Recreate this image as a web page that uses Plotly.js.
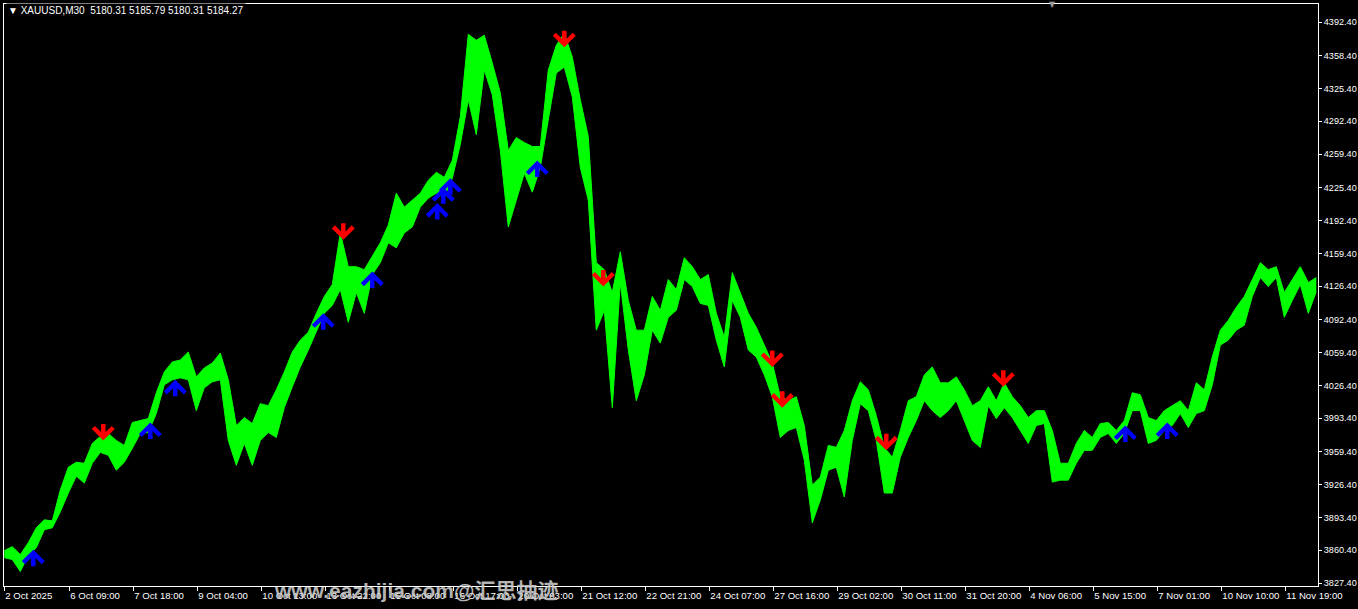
<!DOCTYPE html>
<html>
<head>
<meta charset="utf-8">
<script src="https://cdn.plot.ly/plotly-3.0.1.min.js"></script>
<style>html,body{margin:0;padding:0;background:#000;}#chart{width:1358px;height:609px;}</style>
</head>
<body>
<div id="chart"></div>
<script>
// Sample spacing: every 8 M30 bars
const sampleStep = 8;
// High / low of each 8-bar sample (XAUUSD M30)
const highs = [3860,3864,3856,3868,3883,3891,3890,3921,3944,3949,3948,3968,3975,3978,3971,3966,3989,3991,3993,4019,
4040,4050,4052,4060,4035,4044,4049,4059,4032,3986,3994,3988,4008,4006,4022,4040,4060,4072,4080,4099,
4116,4128,4180,4146,4146,4143,4156,4170,4188,4220,4206,4213,4220,4233,4241,4236,4253,4297,4380,4374,
4379,4351,4321,4263,4276,4271,4267,4267,4344,4369,4381,4357,4314,4277,4150,4143,4120,4161,4112,4082,
4082,4116,4102,4133,4123,4155,4146,4133,4138,4099,4075,4140,4120,4099,4085,4067,4049,4015,4011,4015,
3986,3926,3934,3966,3964,3981,4011,4030,4022,3996,3964,3954,3981,4011,4015,4037,4045,4029,4029,4035,
4022,4006,4011,4025,4011,4029,4015,4006,3994,4001,4001,3981,3948,3948,3968,3981,3974,3988,3989,3981,
3991,4019,4017,3994,3991,4001,4006,4011,4001,4029,4022,4055,4082,4092,4105,4116,4133,4150,4143,4146,
4120,4133,4146,4130,4135];
const lows = [3853,3851,3839,3855,3863,3881,3883,3899,3918,3935,3928,3948,3959,3956,3941,3949,3963,3978,3979,3998,
4027,4032,4034,4032,4001,4024,4030,4032,3971,3946,3968,3946,3971,3979,3974,4004,4025,4045,4062,4080,
4099,4107,4123,4090,4120,4099,4138,4150,4170,4165,4180,4186,4206,4215,4220,4216,4235,4269,4314,4279,
4344,4319,4263,4186,4213,4240,4221,4246,4294,4341,4347,4317,4246,4213,4082,4102,4004,4130,4062,4011,
4037,4082,4069,4095,4102,4133,4126,4109,4107,4072,4045,4112,4095,4062,4055,4037,4015,3974,3981,3984,
3951,3888,3911,3941,3944,3914,3971,4008,4001,3971,3918,3918,3954,3974,3991,4011,4001,3994,4001,4011,
3991,3971,3964,4006,3993,4004,3994,3981,3968,3986,3988,3929,3931,3931,3948,3961,3961,3974,3978,3968,
3978,4001,4001,3968,3971,3981,3986,3998,3984,3998,4001,4027,4067,4072,4082,4087,4116,4135,4126,4135,
4095,4112,4128,4099,4121];
// Sell (down arrow) signals: bar index and tip price
const sellBar = [99,339,560,599,768,778,882,999];
const sellPrice = [3971,4173,4367,4126,4045,4004,3961,4025];
// Buy (up arrow) signals
const buyBar = [29,146,171,319,368,433,439,446,533,1121,1163];
const buyPrice = [3861,3989,4032,4099,4141,4210,4226,4235,4253,3986,3989];
// Axis labels
const timeTickBar = [0,65,129,193,257,321,385,449,513,577,641,705,769,833,897,961,1025,1089,1153,1217,1281];
const timeTickText = ['2 Oct 2025','6 Oct 09:00','7 Oct 18:00','9 Oct 04:00','10 Oct 13:00','13 Oct 22:00','15 Oct 08:00','16 Oct 17:00','20 Oct 03:00','21 Oct 12:00','22 Oct 21:00','24 Oct 07:00','27 Oct 16:00','29 Oct 02:00','30 Oct 11:00','31 Oct 20:00','4 Nov 06:00','5 Nov 15:00','7 Nov 01:00','10 Nov 10:00','11 Nov 19:00'];
const priceTicks = [4392.40,4358.40,4325.40,4292.40,4259.40,4225.40,4192.40,4159.40,4126.40,4092.40,4059.40,4026.40,3993.40,3959.40,3926.40,3893.40,3860.40,3827.40];
const headerText = '▼ XAUUSD,M30  5180.31 5185.79 5180.31 5184.27';
const watermark = 'www.eazhijia.com@汇思抽迹';

const xs = highs.map((_, i) => i * sampleStep);
const traces = [
  {x: xs, y: lows, type: 'scatter', mode: 'lines', line: {color: '#00ff00', width: 1}, hoverinfo: 'skip', showlegend: false},
  {x: xs, y: highs, type: 'scatter', mode: 'lines', fill: 'tonexty', fillcolor: '#00ff00', line: {color: '#00ff00', width: 1}, hoverinfo: 'skip', showlegend: false}
];

const ann = [];
sellBar.forEach((b, k) => ann.push({x: b, y: sellPrice[k], xref: 'x', yref: 'y', text: '', showarrow: true,
  arrowhead: 4, arrowsize: 0.85, arrowwidth: 4.5, arrowcolor: '#ff0000', ax: 0, ay: -18, standoff: 0}));
buyBar.forEach((b, k) => ann.push({x: b, y: buyPrice[k], xref: 'x', yref: 'y', text: '', showarrow: true,
  arrowhead: 4, arrowsize: 0.85, arrowwidth: 4.5, arrowcolor: '#0000ff', ax: 0, ay: 18, standoff: 0}));
ann.push({xref: 'paper', yref: 'paper', x: 0, y: 1, xanchor: 'left', yanchor: 'top', xshift: 2, yshift: 1,
  text: headerText, showarrow: false, bgcolor: '#000000', borderpad: 1,
  font: {family: 'Liberation Sans, Arial, sans-serif', size: 10, color: '#ffffff'}});
ann.push({xref: 'paper', yref: 'paper', x: 0.798, y: 1, xanchor: 'center', yanchor: 'middle', yshift: 0,
  text: '▼', showarrow: false, font: {family: 'DejaVu Sans', size: 8, color: '#9a9a9a'}});
ann.push({xref: 'paper', yref: 'paper', x: 0.3135, y: -0.008, xanchor: 'center', yanchor: 'middle',
  text: '<b>' + watermark + '</b>', showarrow: false,
  font: {family: 'Liberation Sans, Noto Sans CJK SC, sans-serif', size: 21, color: 'rgba(205,205,205,0.88)'}});

const layout = {
  width: 1358, height: 609,
  paper_bgcolor: '#000000', plot_bgcolor: '#000000',
  margin: {l: 4, r: 40, t: 4, b: 23, pad: 0},
  showlegend: false,
  xaxis: {
    range: [-0.3, 1313.7], showgrid: false, zeroline: false,
    showline: true, linecolor: '#ffffff', linewidth: 1, mirror: true,
    tickmode: 'array', tickvals: timeTickBar, ticktext: timeTickText, tickangle: 0,
    ticks: 'outside', ticklen: 4, tickcolor: '#ffffff', tickwidth: 1,
    ticklabelposition: 'outside right',
    tickfont: {family: 'Liberation Sans, Arial, sans-serif', size: 9.6, color: '#ffffff'}
  },
  yaxis: {
    side: 'right', range: [3824.38, 4410.53], showgrid: false, zeroline: false,
    showline: true, linecolor: '#ffffff', linewidth: 1, mirror: true,
    tickmode: 'array', tickvals: priceTicks, ticktext: priceTicks.map(v => v.toFixed(2)),
    ticks: 'outside', ticklen: 3, tickcolor: '#ffffff', tickwidth: 1,
    tickfont: {family: 'Liberation Sans, Arial, sans-serif', size: 9.1, color: '#ffffff'}
  },
  annotations: ann
};
Plotly.newPlot('chart', traces, layout, {displayModeBar: false, staticPlot: true});
</script>
</body>
</html>
